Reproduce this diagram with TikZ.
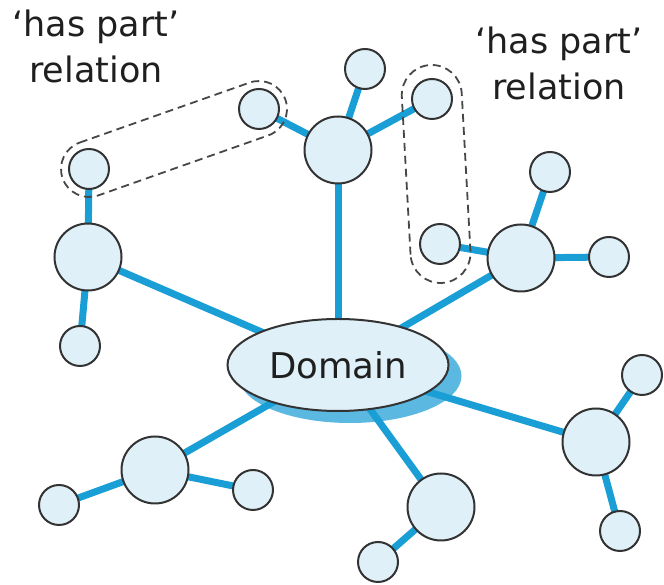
\documentclass[tikz,border=0pt]{standalone}
\usepackage{fontspec}
\setmainfont{DejaVu Sans}
\usetikzlibrary{calc,shapes.geometric}
\definecolor{linkblue}{HTML}{1A9ED6}
\definecolor{nodefill}{HTML}{DFF0F8}
\definecolor{nodeline}{HTML}{333333}
\definecolor{shadowblue}{HTML}{5BB8E0}
\pgfdeclarelayer{shadowlayer}
\pgfdeclarelayer{linklayer}
\pgfsetlayers{shadowlayer,linklayer,main}
\newcommand\mystadium[3]{\draw[grp] let \p1=($(#2)-(#1)$), \n1={atan2(\y1,\x1)} in
  ($(#1)+(\n1+90:#3)$) -- ($(#2)+(\n1+90:#3)$)
  arc[start angle=\n1+90, end angle=\n1-90, radius=#3]
  -- ($(#1)+(\n1-90:#3)$)
  arc[start angle=\n1-90, end angle=\n1-270, radius=#3] -- cycle;}
\begin{document}
\begin{tikzpicture}[x=1pt,y=1pt,
  hub/.style={circle, draw=nodeline, fill=nodefill, line width=2pt, minimum size=67pt, inner sep=0pt},
  leaf/.style={circle, draw=nodeline, fill=nodefill, line width=2pt, minimum size=40pt, inner sep=0pt},
  domnode/.style={ellipse, draw=nodeline, fill=nodefill, line width=2pt, minimum width=221pt, minimum height=92pt, inner sep=0pt, font=\fontsize{35.5}{40}\selectfont, text=black!88},
  link/.style={draw=linkblue, line width=7pt},
  grp/.style={draw=black!72, line width=1.8pt, dash pattern=on 8pt off 5pt},
  lbl/.style={align=center, font=\fontsize{35}{46}\selectfont, text=black!88, inner sep=0pt}]
\useasboundingbox (0,0) rectangle (664,585);

% domain
\node[domnode] (dom) at (338,220) {Domain};
\begin{pgfonlayer}{shadowlayer}
\fill[shadowblue] ($(dom.center)+(12,-11)$) ellipse [x radius=111.5pt, y radius=47pt];
\end{pgfonlayer}

% hubs
\node[hub] (th) at (338,435) {};
\node[hub] (lh) at (88,328) {};
\node[hub] (rh) at (521,327) {};
\node[hub] (blh) at (155,115) {};
\node[hub] (bh) at (441,78) {};
\node[hub] (brh) at (596,143) {};

% leaves
\node[leaf] (t1) at (365,516) {};
\node[leaf] (t2) at (432,486) {};
\node[leaf] (t3) at (259,476) {};
\node[leaf] (l1) at (89,416) {};
\node[leaf] (l2) at (80,239) {};
\node[leaf] (r1) at (550,413) {};
\node[leaf] (r2) at (609,328) {};
\node[leaf] (r3) at (440,341) {};
\node[leaf] (bl1) at (59,80) {};
\node[leaf] (bl2) at (253,95) {};
\node[leaf] (b1) at (378,23) {};
\node[leaf] (br1) at (642,210) {};
\node[leaf] (br2) at (620,54) {};

% connectors
\begin{pgfonlayer}{linklayer}
\foreach \h in {th,lh,rh,blh,bh,brh} \draw[link] (dom.center) -- (\h.center);
\foreach \a/\b in {th/t1,th/t2,th/t3,lh/l1,lh/l2,rh/r1,rh/r2,rh/r3,blh/bl1,blh/bl2,bh/b1,brh/br1,brh/br2}
  \draw[link] (\a.center) -- (\b.center);
\end{pgfonlayer}

% 'has part' groups
\mystadium{l1}{t3}{28pt}
\coordinate (gtop) at ($(t2)!-4pt!(r3)$);
\coordinate (gbot) at ($(r3)!-9pt!(t2)$);
\mystadium{gbot}{gtop}{30pt}

% labels
\node[lbl, anchor=base] (lab1) at (96,502) {‘has part’\\relation};
\node[lbl, anchor=base] (lab2) at (559,485) {‘has part’\\relation};
\end{tikzpicture}
\end{document}
